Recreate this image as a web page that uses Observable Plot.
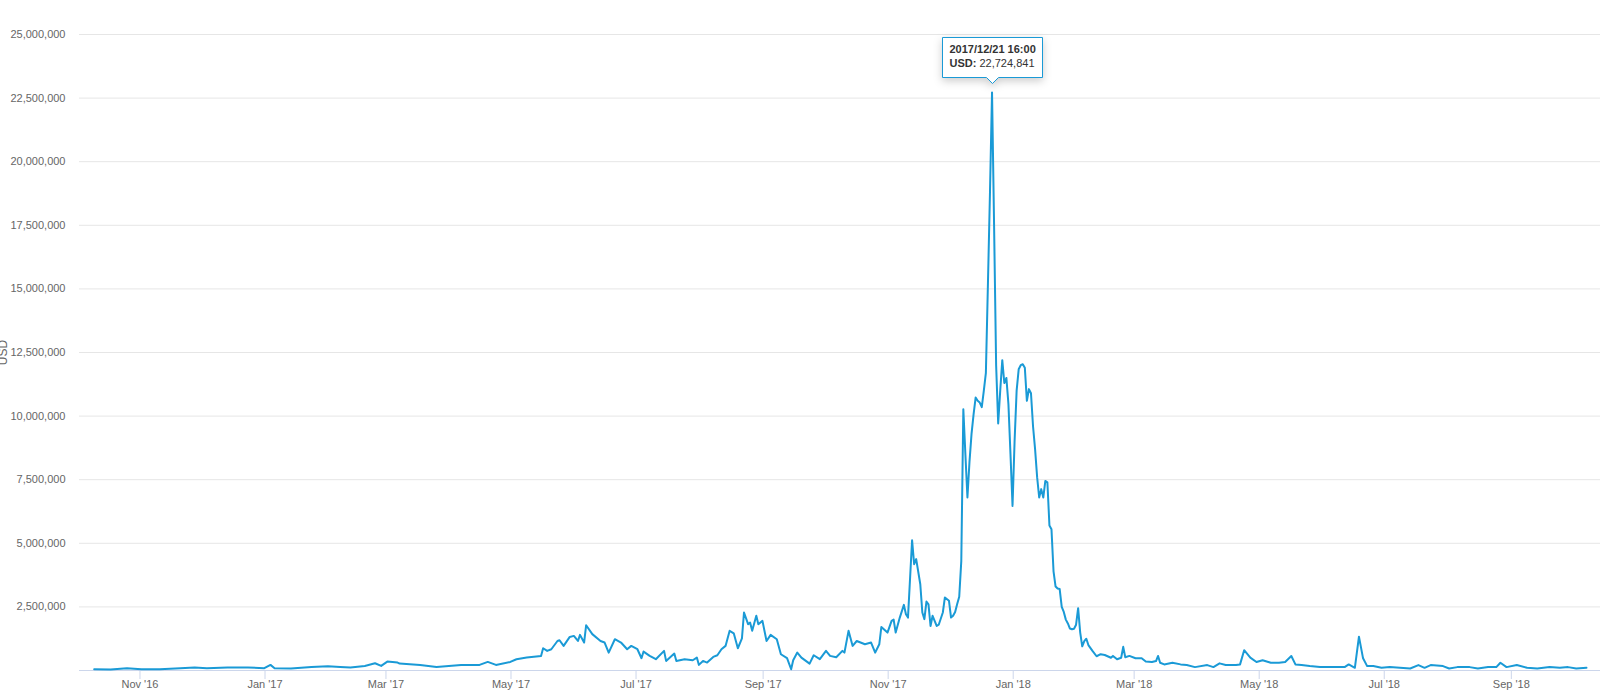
<!DOCTYPE html>
<html>
<head>
<meta charset="utf-8">
<script src="https://cdn.jsdelivr.net/npm/d3@7"></script>
<script src="https://cdn.jsdelivr.net/npm/@observablehq/plot@0.6"></script>
<style>
html, body { margin: 0; padding: 0; background: #fff; }
#chart svg { display: block; }
</style>
</head>
<body>
<div id="chart"></div>
<script>
// ---- Data ----
const dates = [
"2016-10-09","2016-10-17","2016-10-25","2016-11-01","2016-11-10","2016-11-20","2016-11-27","2016-12-03","2016-12-13","2016-12-23","2016-12-31",
"2017-01-03","2017-01-05","2017-01-13","2017-01-23","2017-01-31","2017-02-06","2017-02-11","2017-02-18","2017-02-23","2017-02-26",
"2017-03-01","2017-03-06","2017-03-07","2017-03-17","2017-03-25","2017-04-06","2017-04-15","2017-04-19","2017-04-23","2017-04-30",
"2017-05-03","2017-05-08","2017-05-15","2017-05-16","2017-05-18","2017-05-20","2017-05-23","2017-05-24","2017-05-26","2017-05-29","2017-05-31",
"2017-06-02","2017-06-03","2017-06-05","2017-06-06","2017-06-09","2017-06-13","2017-06-15","2017-06-17","2017-06-20","2017-06-23","2017-06-26","2017-06-28",
"2017-07-01","2017-07-03","2017-07-04","2017-07-07","2017-07-10","2017-07-14","2017-07-15","2017-07-19","2017-07-20","2017-07-24","2017-07-28","2017-07-30","2017-07-31",
"2017-08-02","2017-08-04","2017-08-07","2017-08-09","2017-08-11","2017-08-13","2017-08-15","2017-08-17","2017-08-19","2017-08-21","2017-08-22","2017-08-24","2017-08-25","2017-08-26","2017-08-28","2017-08-29","2017-08-31",
"2017-09-02","2017-09-04","2017-09-07","2017-09-09","2017-09-12","2017-09-14","2017-09-15","2017-09-17","2017-09-19","2017-09-23","2017-09-25","2017-09-28",
"2017-10-01","2017-10-03","2017-10-06","2017-10-09","2017-10-10","2017-10-12","2017-10-14","2017-10-16","2017-10-20","2017-10-23","2017-10-25","2017-10-27","2017-10-28","2017-10-31",
"2017-11-02","2017-11-03","2017-11-04","2017-11-06","2017-11-08","2017-11-09","2017-11-10","2017-11-12","2017-11-13","2017-11-14","2017-11-16","2017-11-17","2017-11-18","2017-11-19","2017-11-20","2017-11-21","2017-11-22","2017-11-24","2017-11-25","2017-11-27","2017-11-28","2017-11-30",
"2017-12-01","2017-12-02","2017-12-03","2017-12-04","2017-12-05","2017-12-06","2017-12-07","2017-12-08","2017-12-09","2017-12-10","2017-12-11","2017-12-12","2017-12-13","2017-12-14","2017-12-15","2017-12-16","2017-12-17","2017-12-18","2017-12-19","2017-12-20","2017-12-21","2017-12-22","2017-12-23","2017-12-24","2017-12-25","2017-12-26","2017-12-27","2017-12-28","2017-12-29","2017-12-30","2017-12-31",
"2018-01-01","2018-01-02","2018-01-03","2018-01-04","2018-01-05","2018-01-06","2018-01-07","2018-01-08","2018-01-09","2018-01-10","2018-01-11","2018-01-12","2018-01-13","2018-01-14","2018-01-15","2018-01-16","2018-01-17","2018-01-18","2018-01-19","2018-01-20","2018-01-21","2018-01-22","2018-01-23","2018-01-24","2018-01-25","2018-01-26","2018-01-27","2018-01-28","2018-01-29","2018-01-30","2018-01-31",
"2018-02-01","2018-02-02","2018-02-03","2018-02-04","2018-02-05","2018-02-06","2018-02-08","2018-02-10","2018-02-12","2018-02-14","2018-02-17","2018-02-18","2018-02-20","2018-02-22","2018-02-23","2018-02-24","2018-02-26",
"2018-03-01","2018-03-04","2018-03-06","2018-03-09","2018-03-11","2018-03-12","2018-03-13","2018-03-15","2018-03-19","2018-03-23","2018-03-26","2018-03-30",
"2018-04-05","2018-04-08","2018-04-11","2018-04-14","2018-04-19","2018-04-21","2018-04-23","2018-04-26","2018-04-29",
"2018-05-02","2018-05-06","2018-05-10","2018-05-13","2018-05-16","2018-05-18","2018-05-21","2018-05-25","2018-05-30",
"2018-06-05","2018-06-11","2018-06-13","2018-06-16","2018-06-18","2018-06-20","2018-06-22","2018-06-25","2018-06-29",
"2018-07-03","2018-07-08","2018-07-13","2018-07-17","2018-07-20","2018-07-23","2018-07-29",
"2018-08-01","2018-08-05","2018-08-11","2018-08-15","2018-08-20","2018-08-24","2018-08-26","2018-08-29",
"2018-09-03","2018-09-08","2018-09-13","2018-09-19","2018-09-24","2018-09-28","2018-10-02","2018-10-07"
];
const usdValues = [
51000,39000,90000,51000,51000,90000,118000,90000,118000,118000,90000,
220000,90000,75000,140000,165000,140000,118000,180000,285000,180000,
350000,310000,271000,220000,141000,220000,220000,338000,220000,338000,
443000,508000,574000,875000,770000,836000,1160000,1190000,967000,1320000,1360000,
1160000,1400000,1100000,1780000,1430000,1160000,1100000,704000,1230000,1100000,836000,967000,
836000,483000,744000,574000,443000,770000,377000,665000,377000,443000,403000,508000,220000,
377000,312000,534000,600000,836000,967000,1560000,1460000,875000,1260000,2280000,1820000,1880000,1560000,2150000,1820000,1950000,
1160000,1400000,1230000,640000,483000,50000,403000,704000,508000,271000,600000,444000,
770000,574000,520000,770000,704000,1560000,967000,1160000,1030000,1100000,704000,1030000,1710000,1490000,
1950000,2000000,1490000,2080000,2580000,2210000,2080000,5120000,4180000,4380000,3390000,2280000,2020000,2710000,2600000,1750000,2150000,1750000,1800000,2280000,2870000,2740000,
2080000,2150000,2300000,2610000,2900000,4300000,10270000,8500000,6800000,8200000,9300000,10070000,10730000,10600000,10530000,10350000,11000000,11700000,15200000,18800000,22724841,17500000,12000000,9710000,11000000,12200000,11300000,11500000,10470000,8500000,6470000,
9000000,11000000,11840000,12000000,12040000,11900000,10600000,11060000,10900000,9600000,8700000,7600000,6800000,7130000,6800000,7450000,7400000,5700000,5550000,3900000,3300000,3220000,3200000,2500000,2300000,2000000,1850000,1650000,1620000,1640000,1800000,
2450000,1500000,950000,1150000,1250000,1000000,770000,560000,640000,610000,500000,574000,440000,500000,930000,520000,574000,
480000,480000,350000,332000,372000,572000,306000,239000,306000,240000,213000,133000,
213000,133000,280000,213000,213000,240000,798000,505000,332000,
400000,306000,306000,332000,572000,240000,213000,173000,133000,
133000,133000,240000,106000,1330000,479000,173000,173000,106000,
133000,106000,80000,213000,106000,213000,173000,
80000,133000,133000,80000,133000,133000,306000,133000,
213000,106000,80000,133000,106000,133000,80000,106000
];
const xTickDates = ["2016-11-01","2017-01-01","2017-03-01","2017-05-01","2017-07-01","2017-09-01","2017-11-01","2018-01-01","2018-03-01","2018-05-01","2018-07-01","2018-09-01"];
const yTickValues = [2500000,5000000,7500000,10000000,12500000,15000000,17500000,20000000,22500000,25000000];
const seriesName = "USD";

// ---- Build ----
const data = dates.map((d, i) => ({date: new Date(d + "T16:00:00Z"), usd: usdValues[i]}));
const peak = data.reduce((a, b) => (b.usd > a.usd ? b : a));
const fmtTip = d3.utcFormat("%Y/%m/%d %H:%M");
const fmtNum = d3.format(",");
const lineColor = "#1a9ad6";
const font = "'Liberation Sans', Arial, Helvetica, sans-serif";

const chart = Plot.plot({
  width: 1600,
  height: 700,
  marginLeft: 79,
  marginRight: 0,
  marginTop: 34,
  marginBottom: 30,
  style: {fontFamily: font, fontSize: "11px", color: "#666666", background: "#ffffff", overflow: "visible"},
  x: {type: "utc", domain: [new Date("2016-10-02T12:00:00Z"), new Date("2018-10-14T12:00:00Z")]},
  y: {domain: [0, 25000000]},
  marks: [
    Plot.gridY(yTickValues, {stroke: "#e6e6e6", strokeOpacity: 1}),
    Plot.ruleY([0], {stroke: "#ccd6eb"}),
    Plot.axisY(yTickValues, {tickSize: 0, tickPadding: 14, tickFormat: fmtNum, label: null, fill: "#666666"}),
    Plot.text([seriesName], {frameAnchor: "left", textAnchor: "middle", rotate: -90, dx: -76, fill: "#666666", fontSize: 12}),
    Plot.axisX(xTickDates.map((d) => new Date(d + "T00:00:00Z")), {
      tickSize: 9, tickPadding: 1, tickFormat: d3.utcFormat("%b '%y"), stroke: "#ccd6eb", strokeOpacity: 1, fill: "#666666", label: null
    }),
    Plot.lineY(data, {x: "date", y: "usd", stroke: lineColor, strokeWidth: 2}),
    Plot.tip([peak], {
      x: "date", y: "usd", anchor: "bottom", dy: -9,
      title: (d) => fmtTip(d.date) + "\n" + seriesName + ": " + fmtNum(d.usd),
      stroke: lineColor, fill: "#ffffff", fontSize: 11, lineHeight: 1.3, textPadding: 7
    })
  ]
});

// style tooltip text like the reference (bold date, bold series name)
const tipText = chart.querySelector('g[aria-label="tip"] text');
if (tipText) {
  tipText.setAttribute("fill", "#333333");
  const spans = tipText.querySelectorAll(":scope > tspan");
  if (spans.length >= 2) {
    spans[0].setAttribute("font-weight", "bold");
    const t = spans[1].textContent;
    const idx = t.indexOf(":");
    spans[1].textContent = "";
    const b = document.createElementNS("http://www.w3.org/2000/svg", "tspan");
    b.setAttribute("font-weight", "bold");
    b.textContent = t.slice(0, idx + 1);
    spans[1].appendChild(b);
    spans[1].appendChild(document.createTextNode(t.slice(idx + 1)));
  }
}
document.getElementById("chart").appendChild(chart);
</script>
</body>
</html>
